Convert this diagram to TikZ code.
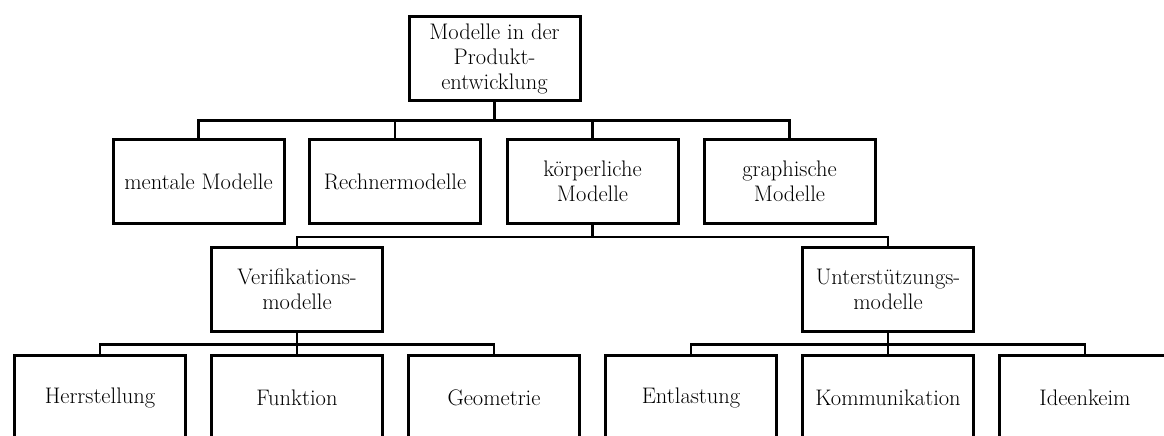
\documentclass[tikz,border=0pt]{standalone}
\begin{document}
\begin{tikzpicture}[x=1pt,y=-1pt,
  box/.style={draw=black, line width=3pt, fill=white, minimum width=171pt, minimum height=84pt,
    inner sep=2pt, align=center, font=\fontsize{22.5}{25}\selectfont},
  conn/.style={draw=black, line width=2.6pt}]
\useasboundingbox (0,0) rectangle (1164,436);
\clip (0,0) rectangle (1164,436);
\fill[white] (0,0) rectangle (1164,436);

% root
\node[box] (root) at (494.5,58.5) {Modelle in der\\Produkt-\\entwicklung};

% first level
\node[box] (ment) at (198.5,181.5) {mentale Modelle};
\node[box] (rech) at (395,181.5) {Rechnermodelle};
\node[box] (koer) at (592.5,181.5) {körperliche\\Modelle};
\node[box] (grap) at (789.5,181.5) {graphische\\Modelle};

% second level
\node[box] (veri) at (297,289.5) {Verifikations-\\modelle};
\node[box] (unte) at (888,289.5) {Unterstützungs-\\modelle};

% third level
\node[box] (herr) at (100,397.5) {Herrstellung};
\node[box] (funk) at (297,397.5) {Funktion};
\node[box] (geom) at (494,397.5) {Geometrie};
\node[box] (entl) at (691,397.5) {Entlastung};
\node[box] (komm) at (888,397.5) {Kommunikation};
\node[box] (idee) at (1085,397.5) {Ideenkeim};

% tree connectors
\foreach \c in {ment,rech,koer,grap}
  \draw[conn] (root.south) -- ++(0,18.5) -| (\c.north);
\foreach \c in {veri,unte}
  \draw[conn] (koer.south) -- ++(0,12) -| (\c.north);
\foreach \c in {herr,funk,geom}
  \draw[conn] (veri.south) -- ++(0,11.5) -| (\c.north);
\foreach \c in {entl,komm,idee}
  \draw[conn] (unte.south) -- ++(0,11.5) -| (\c.north);
\end{tikzpicture}
\end{document}
